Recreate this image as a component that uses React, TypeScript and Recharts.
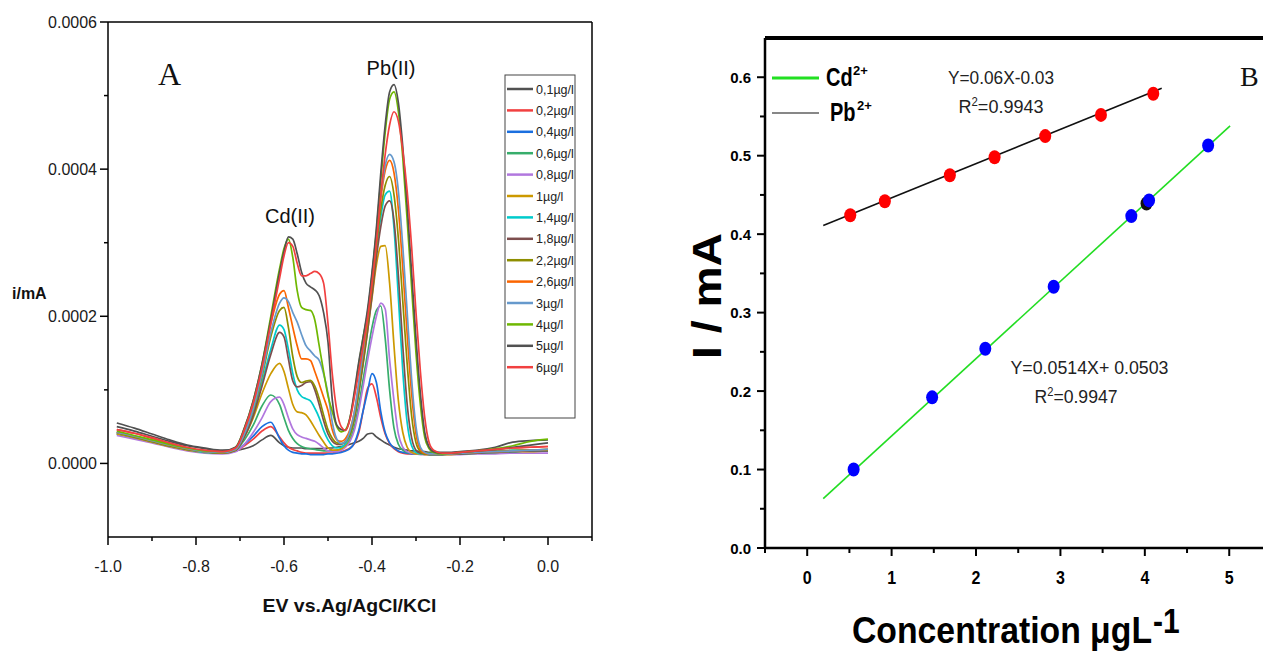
import React from 'react';
import { LineChart, Line, XAxis, YAxis, ReferenceLine, ComposedChart, Scatter } from 'recharts';

const SANS = "'Liberation Sans', Arial, Helvetica, sans-serif";
const SERIF = "'Liberation Serif', 'Times New Roman', serif";

// ---------- Panel A : voltammograms ----------
const potentials = [
  -0.98, -0.94, -0.90, -0.86, -0.82, -0.78, -0.74, -0.71,
  -0.69, -0.67, -0.65, -0.63, -0.61, -0.60, -0.59, -0.58,
  -0.57, -0.56, -0.55, -0.54, -0.53, -0.52, -0.51, -0.50,
  -0.49, -0.48, -0.47, -0.46, -0.45, -0.44, -0.43, -0.42,
  -0.41, -0.40, -0.39, -0.38, -0.37, -0.36, -0.35, -0.34,
  -0.33, -0.32, -0.31, -0.30, -0.29, -0.28, -0.27, -0.26,
  -0.24, -0.22, -0.20, -0.16, -0.12, -0.08, -0.04, 0.00,
];

const seriesLabels = ['0,1µg/l', '0,2µg/l', '0,4µg/l', '0,6µg/l', '0,8µg/l', '1µg/l', '1,4µg/l', '1,8µg/l', '2,2µg/l', '2,6µg/l', '3µg/l', '4µg/l', '5µg/l', '6µg/l'];
const seriesColors = ['#515151', '#F14040', '#1A6FDF', '#37AD6B', '#B177DE', '#CC9900', '#00CBCC', '#7D4E4E', '#8E8E00', '#FB6501', '#6699CC', '#6FB802', '#515151', '#F14040'];

// currents in units of 1e-4 mA
const i01 = [
  0.55, 0.48, 0.40, 0.32, 0.25, 0.21, 0.18, 0.18,
  0.20, 0.24, 0.32, 0.38, 0.28, 0.24, 0.22, 0.21,
  0.21, 0.21, 0.20, 0.20, 0.20, 0.20, 0.20, 0.21,
  0.21, 0.22, 0.23, 0.24, 0.26, 0.28, 0.30, 0.34,
  0.40, 0.41, 0.36, 0.32, 0.28, 0.25, 0.22, 0.20,
  0.19, 0.18, 0.17, 0.17, 0.16, 0.16, 0.15, 0.15,
  0.15, 0.15, 0.16, 0.18, 0.22, 0.29, 0.31, 0.32,
];
const i02 = [
  0.46, 0.41, 0.34, 0.27, 0.21, 0.17, 0.15, 0.17,
  0.24, 0.33, 0.44, 0.50, 0.36, 0.28, 0.22, 0.19,
  0.17, 0.15, 0.14, 0.14, 0.14, 0.14, 0.14, 0.14,
  0.14, 0.15, 0.16, 0.18, 0.21, 0.27, 0.42, 0.72,
  1.02, 1.08, 0.90, 0.62, 0.40, 0.27, 0.20, 0.16,
  0.14, 0.13, 0.13, 0.13, 0.13, 0.13, 0.13, 0.13,
  0.13, 0.14, 0.15, 0.17, 0.19, 0.21, 0.22, 0.23,
];
const i04 = [
  0.40, 0.35, 0.30, 0.25, 0.20, 0.16, 0.14, 0.17,
  0.26, 0.37, 0.50, 0.56, 0.34, 0.24, 0.18, 0.15,
  0.14, 0.13, 0.13, 0.12, 0.12, 0.12, 0.12, 0.13,
  0.13, 0.14, 0.15, 0.17, 0.20, 0.28, 0.45, 0.72,
  0.98, 1.22, 1.10, 0.70, 0.42, 0.28, 0.21, 0.17,
  0.15, 0.14, 0.13, 0.13, 0.13, 0.13, 0.13, 0.13,
  0.13, 0.13, 0.14, 0.15, 0.16, 0.17, 0.17, 0.18,
];
const i06 = [
  0.40, 0.35, 0.29, 0.24, 0.19, 0.16, 0.14, 0.18,
  0.32, 0.52, 0.78, 0.93, 0.80, 0.62, 0.45, 0.34,
  0.27, 0.23, 0.21, 0.20, 0.19, 0.18, 0.17, 0.17,
  0.17, 0.18, 0.20, 0.24, 0.32, 0.50, 0.80, 1.15,
  1.50, 1.85, 2.08, 2.14, 1.70, 1.00, 0.48, 0.26,
  0.18, 0.15, 0.14, 0.14, 0.14, 0.14, 0.14, 0.14,
  0.14, 0.14, 0.15, 0.16, 0.17, 0.18, 0.18, 0.19,
];
const i08 = [
  0.38, 0.33, 0.28, 0.22, 0.17, 0.14, 0.13, 0.16,
  0.26, 0.42, 0.62, 0.84, 0.90, 0.80, 0.62, 0.47,
  0.39, 0.36, 0.34, 0.32, 0.30, 0.26, 0.21, 0.17,
  0.16, 0.16, 0.18, 0.22, 0.30, 0.45, 0.72, 1.05,
  1.40, 1.72, 2.00, 2.18, 2.10, 1.41, 0.85, 0.40,
  0.22, 0.16, 0.14, 0.13, 0.12, 0.12, 0.12, 0.12,
  0.12, 0.12, 0.12, 0.13, 0.13, 0.14, 0.14, 0.14,
];
const i1 = [
  0.40, 0.35, 0.29, 0.23, 0.18, 0.15, 0.14, 0.18,
  0.36, 0.62, 0.95, 1.22, 1.36, 1.25, 1.02, 0.80,
  0.70, 0.69, 0.66, 0.58, 0.48, 0.38, 0.29, 0.21,
  0.18, 0.18, 0.20, 0.25, 0.36, 0.60, 0.95, 1.35,
  1.80, 2.25, 2.70, 2.95, 2.96, 2.45, 1.60, 0.85,
  0.42, 0.22, 0.15, 0.13, 0.13, 0.12, 0.12, 0.12,
  0.12, 0.12, 0.13, 0.14, 0.15, 0.16, 0.16, 0.17,
];
const i14 = [
  0.42, 0.36, 0.30, 0.24, 0.19, 0.15, 0.14, 0.18,
  0.38, 0.68, 1.10, 1.55, 1.88, 1.82, 1.55, 1.22,
  1.00, 0.91, 0.88, 0.85, 0.75, 0.62, 0.45, 0.32,
  0.24, 0.21, 0.22, 0.27, 0.38, 0.62, 0.98, 1.40,
  1.85, 2.35, 2.90, 3.35, 3.65, 3.70, 3.20, 2.25,
  1.25, 0.55, 0.24, 0.15, 0.13, 0.13, 0.12, 0.12,
  0.12, 0.13, 0.13, 0.14, 0.15, 0.16, 0.17, 0.17,
];
const i18 = [
  0.42, 0.36, 0.30, 0.24, 0.19, 0.16, 0.14, 0.18,
  0.36, 0.65, 1.05, 1.48, 1.78, 1.72, 1.42, 1.12,
  1.04, 1.06, 1.10, 1.11, 1.00, 0.80, 0.58, 0.40,
  0.30, 0.26, 0.26, 0.30, 0.40, 0.62, 0.98, 1.38,
  1.80, 2.28, 2.80, 3.22, 3.50, 3.57, 3.30, 2.55,
  1.60, 0.80, 0.35, 0.18, 0.14, 0.13, 0.12, 0.12,
  0.12, 0.13, 0.13, 0.14, 0.15, 0.16, 0.17, 0.17,
];
const i22 = [
  0.42, 0.36, 0.30, 0.24, 0.19, 0.16, 0.14, 0.18,
  0.40, 0.72, 1.18, 1.72, 2.08, 2.12, 1.85, 1.45,
  1.18, 1.10, 1.12, 1.13, 1.05, 0.88, 0.66, 0.46,
  0.34, 0.28, 0.27, 0.30, 0.40, 0.64, 1.02, 1.45,
  1.90, 2.40, 2.95, 3.45, 3.78, 3.90, 3.65, 3.05,
  2.20, 1.35, 0.65, 0.28, 0.16, 0.13, 0.13, 0.13,
  0.13, 0.13, 0.14, 0.15, 0.16, 0.17, 0.18, 0.18,
];
const i26 = [
  0.42, 0.37, 0.31, 0.25, 0.20, 0.16, 0.15, 0.19,
  0.42, 0.78, 1.30, 1.90, 2.30, 2.35, 2.12, 1.85,
  1.60, 1.42, 1.42, 1.40, 1.25, 1.08, 0.90, 0.72,
  0.45, 0.32, 0.30, 0.34, 0.46, 0.70, 1.08, 1.52,
  1.98, 2.50, 3.05, 3.60, 3.98, 4.12, 3.95, 3.45,
  2.65, 1.75, 0.95, 0.40, 0.19, 0.14, 0.13, 0.13,
  0.13, 0.13, 0.14, 0.15, 0.16, 0.17, 0.18, 0.19,
];
const i3 = [
  0.42, 0.37, 0.31, 0.25, 0.20, 0.16, 0.15, 0.19,
  0.40, 0.74, 1.22, 1.78, 2.18, 2.25, 2.20, 2.05,
  1.92, 1.75, 1.60, 1.53, 1.46, 1.40, 1.22, 0.95,
  0.55, 0.33, 0.27, 0.30, 0.44, 0.70, 1.10, 1.55,
  2.02, 2.55, 3.10, 3.65, 4.05, 4.20, 4.10, 3.70,
  2.95, 2.05, 1.15, 0.50, 0.22, 0.15, 0.13, 0.13,
  0.13, 0.13, 0.14, 0.15, 0.16, 0.17, 0.18, 0.19,
];
const i4 = [
  0.44, 0.38, 0.32, 0.26, 0.21, 0.17, 0.16, 0.22,
  0.48, 0.85, 1.35, 2.00, 2.65, 2.92, 3.05, 2.80,
  2.35, 2.12, 2.09, 2.08, 1.95, 1.60, 1.25, 0.92,
  0.70, 0.50, 0.43, 0.46, 0.62, 0.95, 1.35, 1.72,
  2.05, 2.55, 3.15, 3.85, 4.50, 4.95, 5.05, 4.78,
  4.15, 3.30, 2.40, 1.50, 0.80, 0.35, 0.20, 0.15,
  0.13, 0.14, 0.15, 0.17, 0.20, 0.24, 0.30, 0.33,
];
const i5 = [
  0.50, 0.44, 0.37, 0.30, 0.24, 0.20, 0.17, 0.22,
  0.48, 0.85, 1.35, 1.95, 2.60, 2.88, 3.08, 3.05,
  2.85, 2.60, 2.45, 2.40, 2.36, 2.28, 2.05, 1.65,
  0.85, 0.52, 0.46, 0.45, 0.62, 0.98, 1.38, 1.72,
  2.10, 2.60, 3.20, 3.95, 4.60, 5.05, 5.15, 4.90,
  4.30, 3.50, 2.60, 1.70, 0.95, 0.42, 0.22, 0.16,
  0.14, 0.14, 0.15, 0.17, 0.19, 0.22, 0.25, 0.28,
];
const i6 = [
  0.46, 0.41, 0.35, 0.28, 0.22, 0.18, 0.16, 0.21,
  0.46, 0.82, 1.30, 1.90, 2.52, 2.82, 3.00, 2.95,
  2.72, 2.55, 2.55, 2.58, 2.61, 2.58, 2.45, 1.90,
  1.20, 0.72, 0.50, 0.45, 0.60, 0.90, 1.25, 1.60,
  1.98, 2.45, 3.00, 3.65, 4.20, 4.60, 4.78, 4.65,
  4.25, 3.70, 2.95, 2.05, 1.25, 0.62, 0.28, 0.18,
  0.14, 0.14, 0.15, 0.17, 0.19, 0.21, 0.22, 0.23,
];
const currents = [i01, i02, i04, i06, i08, i1, i14, i18, i22, i26, i3, i4, i5, i6];

const xTicksA = [-1.0, -0.9, -0.8, -0.7, -0.6, -0.5, -0.4, -0.3, -0.2, -0.1, 0.0, 0.1];
const yTicksA = [0, 0.0001, 0.0002, 0.0003, 0.0004, 0.0005, 0.0006];

// ---------- Panel B : calibration ----------
const pbConc = [0.51, 0.92, 1.69, 2.22, 2.82, 3.48, 4.10];
const pbCurrent = [0.424, 0.442, 0.475, 0.498, 0.525, 0.552, 0.579];
const cdConc = [0.55, 1.48, 2.11, 2.92, 3.84, 4.05, 4.75];
const cdCurrent = [0.100, 0.192, 0.254, 0.333, 0.423, 0.443, 0.513];
const extraConc = [4.02];
const extraCurrent = [0.439];
const pbFitX = [0.19, 4.2];
const pbFitY = [0.411, 0.586];
const cdFitX = [0.19, 5.01];
const cdFitY = [0.063, 0.538];
const xTicksB = [-0.5, 0, 0.5, 1, 1.5, 2, 2.5, 3, 3.5, 4, 4.5, 5];
const yTicksB = [0, 0.05, 0.1, 0.15, 0.2, 0.25, 0.3, 0.35, 0.4, 0.45, 0.5, 0.55, 0.6];

const tableA = potentials.map((E, i) => {
  const row: Record<string, number> = { E };
  currents.forEach((arr, k) => {
    row[`s${k}`] = arr[i] * 1e-4;
  });
  return row;
});
const zip = (xs: number[], ys: number[]) => xs.map((x, i) => ({ x, y: ys[i] }));
const pbPoints = zip(pbConc, pbCurrent);
const cdPoints = zip(cdConc, cdCurrent);
const extraPoints = zip(extraConc, extraCurrent);
const pbFit = zip(pbFitX, pbFitY);
const cdFit = zip(cdFitX, cdFitY);

function TickAX(props: any) {
  const { x, y, payload } = props;
  const v: number = payload.value;
  const major = Math.abs(Math.round(v * 10)) % 2 === 0;
  return (
    <g>
      <line x1={x} x2={x} y1={y} y2={y + (major ? 8 : 4)} stroke="#000" strokeWidth={1.5} />
      {major && (
        <text x={x} y={y + 35} textAnchor="middle" fontSize={16} fill="#1a1a1a">
          {v.toFixed(1)}
        </text>
      )}
    </g>
  );
}

function TickAY(props: any) {
  const { x, y, payload } = props;
  const v: number = payload.value;
  const major = Math.round(v * 1e4) % 2 === 0;
  return (
    <g>
      <line x1={x - (major ? 8 : 4)} x2={x} y1={y} y2={y} stroke="#000" strokeWidth={1.5} />
      {major && (
        <text x={x - 11} y={y + 6} textAnchor="end" fontSize={16} fill="#1a1a1a">
          {v.toFixed(4)}
        </text>
      )}
    </g>
  );
}

function TickBX(props: any) {
  const { x, y, payload } = props;
  const v: number = payload.value;
  const major = Math.abs(v - Math.round(v)) < 1e-6;
  return (
    <g>
      <line x1={x} x2={x} y1={y} y2={y + (major ? 8 : 5)} stroke="#000" strokeWidth={2} />
      {major && (
        <text transform={`translate(${x},${y + 36}) scale(1,1.2)`} textAnchor="middle" fontSize={16} fontWeight="bold" fill="#000">
          {String(v)}
        </text>
      )}
    </g>
  );
}

function TickBY(props: any) {
  const { x, y, payload } = props;
  const v: number = payload.value;
  const major = Math.abs(v * 10 - Math.round(v * 10)) < 1e-6;
  return (
    <g>
      <line x1={x - (major ? 8 : 5)} x2={x} y1={y} y2={y} stroke="#000" strokeWidth={2} />
      {major && (
        <text x={x - 14} y={y + 5.5} textAnchor="end" fontSize={15} fontWeight="bold" fill="#000">
          {v.toFixed(1)}
        </text>
      )}
    </g>
  );
}

const dotShape = (color: string) => (props: any) => (
  <ellipse cx={props.cx} cy={props.cy} rx={6} ry={7} fill={color} />
);

export default function App() {
  return (
    <div
      style={{
        position: 'absolute',
        left: 0,
        top: 0,
        width: 1263,
        height: 654,
        overflow: 'hidden',
        background: '#fff',
        fontFamily: SANS,
      }}
    >
      <div style={{ position: 'absolute', left: 0, top: 0 }}>
        <LineChart width={640} height={654} data={tableA} margin={{ top: 22, right: 48, bottom: 87, left: 0 }}>
          <XAxis
            type="number"
            dataKey="E"
            domain={[-1.0, 0.1]}
            ticks={xTicksA}
            interval={0}
            allowDataOverflow
            height={30}
            tickSize={0}
            tickMargin={0}
            tickLine={false}
            tick={TickAX}
            axisLine={{ stroke: '#000', strokeWidth: 1.5 }}
          />
          <YAxis
            type="number"
            domain={[-0.0001, 0.0006]}
            ticks={yTicksA}
            interval={0}
            allowDataOverflow
            width={108}
            tickSize={0}
            tickMargin={0}
            tickLine={false}
            tick={TickAY}
            axisLine={{ stroke: '#000', strokeWidth: 1.5 }}
          />
          <ReferenceLine y={0.0006} stroke="#000" strokeWidth={1.5} />
          <ReferenceLine x={0.1} stroke="#000" strokeWidth={1.5} />
          {seriesLabels.map((label, k) => (
            <Line
              key={label + k}
              type="monotone"
              dataKey={`s${k}`}
              name={label}
              stroke={seriesColors[k]}
              strokeWidth={1.7}
              dot={false}
              isAnimationActive={false}
            />
          ))}
        </LineChart>
      </div>

      <div style={{ position: 'absolute', left: 640, top: 0 }}>
        <ComposedChart width={623} height={654} margin={{ top: 38, right: 0, bottom: 76, left: 0 }}>
          <XAxis
            type="number"
            dataKey="x"
            domain={[-0.5, 5.4]}
            ticks={xTicksB}
            interval={0}
            allowDataOverflow
            height={30}
            tickSize={0}
            tickMargin={0}
            tickLine={false}
            tick={TickBX}
            axisLine={{ stroke: '#000', strokeWidth: 2.5 }}
          />
          <YAxis
            type="number"
            dataKey="y"
            domain={[0, 0.65]}
            ticks={yTicksB}
            interval={0}
            allowDataOverflow
            width={125}
            tickSize={0}
            tickMargin={0}
            tickLine={false}
            tick={TickBY}
            axisLine={{ stroke: '#000', strokeWidth: 2.5 }}
          />
          <ReferenceLine y={0.65} stroke="#000" strokeWidth={4} />
          <Line data={pbFit} dataKey="y" type="linear" stroke="#111" strokeWidth={1.6} dot={false} isAnimationActive={false} />
          <Line data={cdFit} dataKey="y" type="linear" stroke="#22DD22" strokeWidth={1.6} dot={false} isAnimationActive={false} />
          <Scatter data={pbPoints} dataKey="y" fill="#FF0000" shape={dotShape('#FF0000')} isAnimationActive={false} />
          <Scatter data={extraPoints} dataKey="y" fill="#111" shape={dotShape('#111')} isAnimationActive={false} />
          <Scatter data={cdPoints} dataKey="y" fill="#0000FF" shape={dotShape('#0000FF')} isAnimationActive={false} />
        </ComposedChart>
      </div>

      <svg width={1263} height={654} style={{ position: 'absolute', left: 0, top: 0, pointerEvents: 'none' }}>
        {/* Panel A texts */}
        <text x={12} y={299} fontSize={16} fontWeight="bold" fill="#111">i/mA</text>
        <text x={349.5} y={612} textAnchor="middle" fontSize={19} fontWeight="bold" fill="#111" textLength={174} lengthAdjust="spacingAndGlyphs">
          EV vs.Ag/AgCl/KCl
        </text>
        <text x={158} y={85} fontFamily={SERIF} fontSize={32} fill="#111">A</text>
        <text x={265} y={223} fontSize={20} fill="#111">Cd(II)</text>
        <text x={391} y={75} textAnchor="middle" fontSize={20} fill="#111">Pb(II)</text>

        {/* Panel A legend */}
        <rect x={505} y={75} width={70} height={343} fill="#fff" stroke="#444" strokeWidth={1} />
        {seriesLabels.map((label, k) => {
          const yy = 89 + 21.4 * k;
          return (
            <g key={label + k}>
              <line x1={507} x2={533} y1={yy} y2={yy} stroke={seriesColors[k]} strokeWidth={2.5} />
              <text x={536} y={yy + 4.5} fontSize={12.5} fill="#222">{label}</text>
            </g>
          );
        })}

        {/* Panel B legend */}
        <line x1={772} x2={819} y1={78} y2={78} stroke="#22E022" strokeWidth={3} />
        <text transform="translate(826,86) scale(1,1.25)" fontSize={20} fontWeight="bold" fill="#000">Cd</text>
        <text x={853} y={75} fontSize={13} fontWeight="bold" fill="#000">2+</text>
        <line x1={772} x2={819} y1={113} y2={113} stroke="#111" strokeWidth={1.2} />
        <text transform="translate(830,121) scale(1,1.25)" fontSize={20} fontWeight="bold" fill="#000">Pb</text>
        <text x={857} y={110} fontSize={13} fontWeight="bold" fill="#000">2+</text>

        {/* Panel B equations */}
        <text x={1001} y={84} textAnchor="middle" fontSize={19} fill="#222" textLength={106} lengthAdjust="spacingAndGlyphs">Y=0.06X-0.03</text>
        <text x={1001} y={113} textAnchor="middle" fontSize={19} fill="#222" textLength={85} lengthAdjust="spacingAndGlyphs">
          R<tspan dy={-7} fontSize={12}>2</tspan><tspan dy={7}>=0.9943</tspan>
        </text>
        <text x={1089.5} y={374} textAnchor="middle" fontSize={19} fill="#222" textLength={158} lengthAdjust="spacingAndGlyphs">Y=0.0514X+ 0.0503</text>
        <text x={1076} y={403} textAnchor="middle" fontSize={19} fill="#222" textLength={83} lengthAdjust="spacingAndGlyphs">
          R<tspan dy={-7} fontSize={12}>2</tspan><tspan dy={7}>=0.9947</tspan>
        </text>
        <text x={1240} y={86} fontFamily={SERIF} fontSize={28} fill="#111">B</text>

        {/* Panel B axis titles */}
        <text transform="translate(721,359) rotate(-90)" fontSize={40} fontWeight="bold" fill="#000" textLength={126} lengthAdjust="spacingAndGlyphs">
          I / mA
        </text>
        <text transform="translate(852,643) scale(1,1.18)" fontSize={32} fontWeight="bold" fill="#000" textLength={300} lengthAdjust="spacingAndGlyphs">
          Concentration μgL
        </text>
        <text transform="translate(1153,633) scale(1,1.18)" fontSize={30} fontWeight="bold" fill="#000">-1</text>
      </svg>
    </div>
  );
}
